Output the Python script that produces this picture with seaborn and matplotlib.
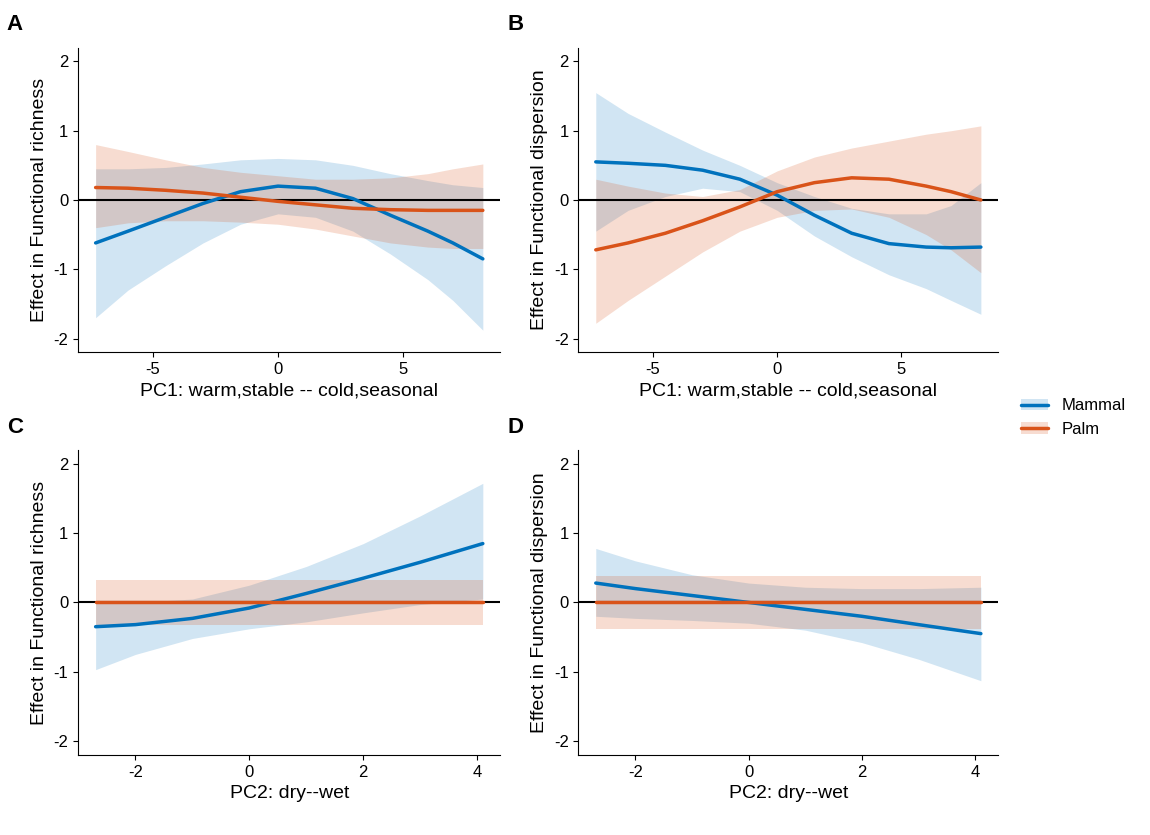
import matplotlib
matplotlib.use("Agg")
import numpy as np
import pandas as pd
import matplotlib.pyplot as plt
import seaborn as sns
from matplotlib.lines import Line2D
from matplotlib.patches import Patch

sns.set_style("ticks")
plt.rcParams['font.family'] = ['Liberation Sans', 'DejaVu Sans']
plt.rcParams['axes.unicode_minus'] = False
plt.rcParams['text.color'] = 'black'
plt.rcParams['axes.labelcolor'] = 'black'
plt.rcParams['xtick.color'] = 'black'
plt.rcParams['ytick.color'] = 'black'
plt.rcParams['axes.edgecolor'] = 'black'

mammal_col = "#0072BD"
palm_col = "#D95319"

# Panel A (PC1, richness)
a_x = [-7.3, -6, -4.5, -3, -1.5, 0, 1.5, 3, 4.5, 6, 7, 8.2]
a_mam = [-0.62, -0.45, -0.25, -0.05, 0.12, 0.2, 0.17, 0.02, -0.22, -0.45, -0.62, -0.85]
a_mam_lo = [-1.7, -1.3, -0.95, -0.62, -0.35, -0.2, -0.25, -0.45, -0.78, -1.15, -1.45, -1.88]
a_mam_hi = [0.45, 0.45, 0.47, 0.52, 0.58, 0.6, 0.58, 0.5, 0.38, 0.28, 0.22, 0.18]
a_palm = [0.18, 0.17, 0.14, 0.1, 0.04, -0.02, -0.07, -0.12, -0.14, -0.15, -0.15, -0.15]
a_palm_lo = [-0.4, -0.33, -0.3, -0.3, -0.32, -0.35, -0.42, -0.52, -0.62, -0.68, -0.7, -0.7]
a_palm_hi = [0.8, 0.7, 0.58, 0.47, 0.4, 0.35, 0.3, 0.3, 0.32, 0.38, 0.45, 0.52]

# Panel B (PC1, dispersion)
b_x = [-7.3, -6, -4.5, -3, -1.5, 0, 1.5, 3, 4.5, 6, 7, 8.2]
b_mam = [0.55, 0.53, 0.5, 0.43, 0.3, 0.07, -0.22, -0.48, -0.63, -0.68, -0.69, -0.68]
b_mam_lo = [-0.45, -0.15, 0.05, 0.17, 0.12, -0.15, -0.52, -0.82, -1.08, -1.28, -1.45, -1.65]
b_mam_hi = [1.55, 1.25, 0.98, 0.72, 0.5, 0.25, 0.05, -0.12, -0.2, -0.2, -0.08, 0.25]
b_palm = [-0.72, -0.62, -0.48, -0.3, -0.1, 0.12, 0.25, 0.32, 0.3, 0.2, 0.12, 0.0]
b_palm_lo = [-1.78, -1.45, -1.1, -0.75, -0.45, -0.25, -0.15, -0.13, -0.25, -0.5, -0.72, -1.05]
b_palm_hi = [0.3, 0.2, 0.1, 0.05, 0.15, 0.42, 0.62, 0.75, 0.85, 0.95, 1.0, 1.07]

# Panel C (PC2, richness)
c_x = [-2.7, -2, -1, 0, 1, 2, 3, 4.1]
c_mam = [-0.35, -0.32, -0.23, -0.08, 0.13, 0.35, 0.58, 0.85]
c_mam_lo = [-0.97, -0.75, -0.52, -0.38, -0.28, -0.15, -0.03, 0.05]
c_mam_hi = [0.0, 0.0, 0.05, 0.25, 0.52, 0.85, 1.25, 1.72]
c_palm = [0, 0, 0, 0, 0, 0, 0, 0]
c_palm_lo = [-0.33] * 8
c_palm_hi = [0.33] * 8

# Panel D (PC2, dispersion)
d_x = [-2.7, -2, -1, 0, 1, 2, 3, 4.1]
d_mam = [0.28, 0.2, 0.1, 0.0, -0.1, -0.2, -0.32, -0.45]
d_mam_lo = [-0.2, -0.23, -0.26, -0.3, -0.4, -0.58, -0.82, -1.13]
d_mam_hi = [0.78, 0.6, 0.4, 0.28, 0.22, 0.2, 0.2, 0.22]
d_palm = [0, 0, 0, 0, 0, 0, 0, 0]
d_palm_lo = [-0.38] * 8
d_palm_hi = [0.38] * 8

panels = [
    ("A", a_x, a_mam, a_mam_lo, a_mam_hi, a_palm, a_palm_lo, a_palm_hi,
     "PC1: warm,stable -- cold,seasonal", "Effect in Functional richness", [-5, 0, 5]),
    ("B", b_x, b_mam, b_mam_lo, b_mam_hi, b_palm, b_palm_lo, b_palm_hi,
     "PC1: warm,stable -- cold,seasonal", "Effect in Functional dispersion", [-5, 0, 5]),
    ("C", c_x, c_mam, c_mam_lo, c_mam_hi, c_palm, c_palm_lo, c_palm_hi,
     "PC2: dry--wet", "Effect in Functional richness", [-2, 0, 2, 4]),
    ("D", d_x, d_mam, d_mam_lo, d_mam_hi, d_palm, d_palm_lo, d_palm_hi,
     "PC2: dry--wet", "Effect in Functional dispersion", [-2, 0, 2, 4]),
]

fig = plt.figure(figsize=(11.5, 8.35), dpi=100)
boxes = [(0.068, 0.578, 0.367, 0.365), (0.503, 0.578, 0.365, 0.365),
         (0.068, 0.096, 0.367, 0.365), (0.503, 0.096, 0.365, 0.365)]

for box, p in zip(boxes, panels):
    letter, x, m, mlo, mhi, pl, plo, phi, xlab, ylab, xt = p
    ax = fig.add_axes(box)
    df = pd.DataFrame({"x": x * 2, "y": m + pl,
                       "taxon": ["Mammal"] * len(x) + ["Palm"] * len(x)})
    ax.fill_between(x, mlo, mhi, color=mammal_col, alpha=0.18, lw=0)
    ax.fill_between(x, plo, phi, color=palm_col, alpha=0.2, lw=0)
    ax.axhline(0, color="black", lw=1.5, zorder=1)
    sns.lineplot(data=df, x="x", y="y", hue="taxon",
                 palette={"Mammal": mammal_col, "Palm": palm_col},
                 lw=2.5, legend=False, ax=ax, zorder=3)
    ax.set_ylim(-2.2, 2.2)
    ax.set_yticks([-2, -1, 0, 1, 2])
    ax.set_xticks(xt)
    pad = (max(x) - min(x)) * 0.045
    ax.set_xlim(min(x) - pad, max(x) + pad)
    ax.set_xlabel(xlab, fontsize=14)
    ax.set_ylabel(ylab, fontsize=14)
    ax.tick_params(labelsize=12)
    sns.despine(ax=ax)
    fig.text(box[0] - 0.062, box[1] + box[3] + 0.015, letter,
             fontsize=16, fontweight="bold", va="bottom")

handles = [(Patch(color=mammal_col, alpha=0.18, lw=0), Line2D([], [], color=mammal_col, lw=2.5)),
           (Patch(color=palm_col, alpha=0.2, lw=0), Line2D([], [], color=palm_col, lw=2.5))]
fig.legend(handles, ["Mammal", "Palm"], loc="center left",
           bbox_to_anchor=(0.875, 0.5), frameon=False, fontsize=12,
           handlelength=1.6)

fig.savefig("out.png", dpi=100)
